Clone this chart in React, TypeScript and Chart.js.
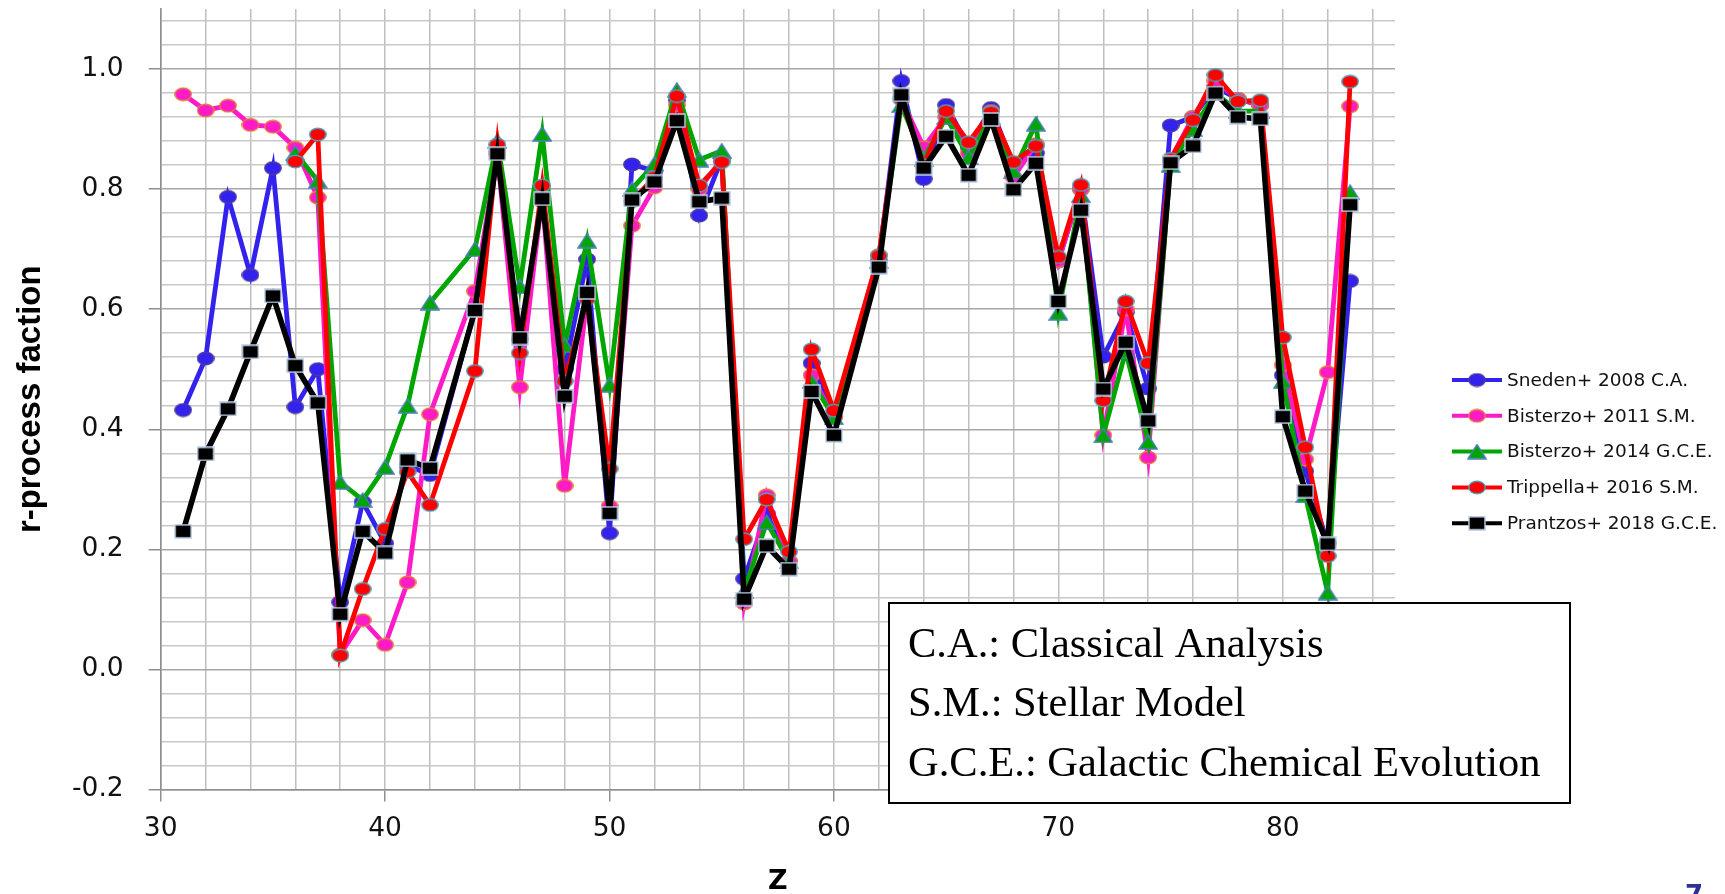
import React, { useEffect, useRef } from "react";
import { Chart, registerables } from "chart.js";

Chart.register(...registerables);

// Atomic number Z (no stable Tc = 43, Pm = 61)
const Z = [
  31, 32, 33, 34, 35, 36, 37, 38, 39, 40, 41, 42,
  44, 45, 46, 47, 48, 49, 50, 51, 52, 53, 54, 55, 56, 57, 58, 59, 60,
  62, 63, 64, 65, 66, 67, 68, 69, 70, 71, 72, 73, 74, 75, 76, 77, 78, 79, 80, 81, 82, 83,
];

const SNEDEN_2008 = [
  0.432, 0.518, 0.787, 0.657, 0.835, 0.437, 0.5, 0.112, 0.279, 0.21, 0.34, 0.324,
  0.6, 0.86, 0.55, 0.78, 0.5, 0.683, 0.227, 0.841, 0.83, 0.948, 0.756, 0.85, 0.151, 0.26, 0.18, 0.51, 0.42,
  0.68, 0.98, 0.817, 0.94, 0.87, 0.935, 0.84, 0.86, 0.68, 0.8, 0.521, 0.595, 0.468, 0.906, 0.92, 0.97, 0.95, 0.94, 0.49, 0.33, 0.21, 0.647,
];

const BISTERZO_2011 = [
  0.958, 0.931, 0.939, 0.907, 0.904, 0.869, 0.786, 0.025, 0.082, 0.041, 0.145, 0.425,
  0.63, 0.86, 0.47, 0.79, 0.306, 0.62, 0.272, 0.739, 0.803, 0.94, 0.8, 0.85, 0.11, 0.29, 0.18, 0.49, 0.42,
  0.69, 0.95, 0.87, 0.92, 0.86, 0.93, 0.82, 0.875, 0.68, 0.8, 0.39, 0.6, 0.353, 0.85, 0.92, 0.98, 0.95, 0.94, 0.507, 0.35, 0.495, 0.938,
];

const BISTERZO_2014 = [
  null, null, null, null, null, 0.86, 0.814, 0.312, 0.282, 0.337, 0.439, 0.611,
  0.7, 0.88, 0.638, 0.892, 0.54, 0.714, 0.474, 0.8, 0.842, 0.965, 0.849, 0.864, 0.13, 0.245, 0.18, 0.48, 0.42,
  0.68, 0.94, 0.85, 0.92, 0.853, 0.92, 0.83, 0.909, 0.594, 0.79, 0.39, 0.53, 0.379, 0.84, 0.9, 0.96, 0.93, 0.93, 0.48, 0.29, 0.128, 0.795,
];

const TRIPPELLA_2016 = [
  null, null, null, null, null, 0.846, 0.891, 0.023, 0.134, 0.234, 0.329, 0.274,
  0.497, 0.874, 0.527, 0.806, 0.48, 0.617, 0.334, 0.78, 0.82, 0.955, 0.806, 0.845, 0.217, 0.283, 0.196, 0.533, 0.431,
  0.689, 0.95, 0.84, 0.93, 0.878, 0.928, 0.845, 0.872, 0.687, 0.807, 0.448, 0.613, 0.51, 0.85, 0.915, 0.99, 0.946, 0.948, 0.553, 0.37, 0.189, 0.979,
];

const PRANTZOS_2018 = [
  0.23, 0.359, 0.434, 0.529, 0.622, 0.506, 0.444, 0.092, 0.23, 0.194, 0.349, 0.335,
  0.598, 0.859, 0.552, 0.784, 0.455, 0.628, 0.26, 0.782, 0.812, 0.914, 0.779, 0.785, 0.117, 0.206, 0.167, 0.463, 0.39,
  0.67, 0.957, 0.835, 0.888, 0.823, 0.916, 0.799, 0.843, 0.613, 0.765, 0.467, 0.545, 0.414, 0.844, 0.872, 0.96, 0.92, 0.917, 0.421, 0.297, 0.209, 0.774,
];

const SERIES_LABELS = [
  "Sneden+ 2008 C.A.",
  "Bisterzo+ 2011 S.M.",
  "Bisterzo+ 2014 G.C.E.",
  "Trippella+ 2016 S.M.",
  "Prantzos+ 2018 G.C.E.",
];

const X_TICK_LABELS = [30, 40, 50, 60, 70, 80];
const Y_TICK_LABELS = [-0.2, 0.0, 0.2, 0.4, 0.6, 0.8, 1.0];

const NOTE_LINES = [
  "C.A.: Classical Analysis",
  "S.M.: Stellar Model",
  "G.C.E.: Galactic Chemical Evolution",
];

const PAGE_NUMBER = "7";

// axis ranges and minor grid spacing
const X_MIN = 30;
const X_MAX = 85;
const X_MINOR = 2;
const Y_MIN = -0.2;
const Y_MAX = 1.1;
const Y_MINOR = 0.04;

type MarkerKind = "circle" | "triangle" | "square";

function makeMarker(kind: MarkerKind, fill: string, stroke: string): HTMLCanvasElement {
  const c = document.createElement("canvas");
  const w = kind === "triangle" ? 20 : 18;
  const h = kind === "triangle" ? 16 : 15;
  c.width = w;
  c.height = h;
  const g = c.getContext("2d")!;
  g.fillStyle = fill;
  g.strokeStyle = stroke;
  g.lineWidth = 1.4;
  g.beginPath();
  if (kind === "circle") {
    g.ellipse(w / 2, h / 2, 8.2, 6.3, 0, 0, Math.PI * 2);
  } else if (kind === "triangle") {
    g.moveTo(w / 2, 1);
    g.lineTo(w - 1, h - 1);
    g.lineTo(1, h - 1);
    g.closePath();
  } else {
    g.rect(1, 1, w - 2, h - 2);
  }
  g.fill();
  g.stroke();
  return c;
}

function isMultiple(v: number, step: number) {
  const r = v / step;
  return Math.abs(r - Math.round(r)) < 1e-6;
}

export default function App() {
  const canvasRef = useRef<HTMLCanvasElement | null>(null);

  useEffect(() => {
    const canvas = canvasRef.current;
    if (!canvas) return;

    const styles = [
      { color: "#3322ee", marker: makeMarker("circle", "#3322ee", "#4b3c9e"), width: 4.8, order: 4 },
      { color: "#ff1ac8", marker: makeMarker("circle", "#ff1ac8", "#e0803a"), width: 4.8, order: 3 },
      { color: "#00a600", marker: makeMarker("triangle", "#00a600", "#4a7ebb"), width: 4.8, order: 2 },
      { color: "#ff0000", marker: makeMarker("circle", "#ff0000", "#4aa3b8"), width: 4.8, order: 1 },
      { color: "#000000", marker: makeMarker("square", "#000000", "#b9cde5"), width: 5.6, order: 0 },
    ];
    const seriesValues = [SNEDEN_2008, BISTERZO_2011, BISTERZO_2014, TRIPPELLA_2016, PRANTZOS_2018];

    const datasets = seriesValues.map((vals, i) => ({
      label: SERIES_LABELS[i],
      data: Z.map((z, j) => ({ x: z, y: vals[j] })),
      borderColor: styles[i].color,
      backgroundColor: styles[i].color,
      borderWidth: styles[i].width,
      pointStyle: styles[i].marker,
      pointRadius: 8,
      tension: 0,
      order: styles[i].order,
    }));

    const xGrid: number[] = [];
    for (let v = X_MIN; v < X_MAX; v += X_MINOR) xGrid.push(v);
    const yGrid: number[] = [];
    for (let k = 0; Y_MIN + k * Y_MINOR < Y_MAX - 1e-9; k++) {
      yGrid.push(Math.round((Y_MIN + k * Y_MINOR) * 1000) / 1000);
    }

    const overlay = {
      id: "overlay",
      afterDraw(chart: any) {
        const ctx = chart.ctx as CanvasRenderingContext2D;
        ctx.save();

        // series key on the right
        const keyX0 = 1452;
        const keyX1 = 1502;
        const keyY0 = 380;
        const keyStep = 35.8;
        ctx.font = "18.5px 'DejaVu Sans'";
        ctx.textBaseline = "middle";
        ctx.textAlign = "left";
        SERIES_LABELS.forEach((label, i) => {
          const y = keyY0 + i * keyStep;
          ctx.strokeStyle = styles[i].color;
          ctx.lineWidth = 4;
          ctx.beginPath();
          ctx.moveTo(keyX0, y);
          ctx.lineTo(keyX1, y);
          ctx.stroke();
          const m = styles[i].marker;
          ctx.drawImage(m, (keyX0 + keyX1) / 2 - m.width / 2, y - m.height / 2);
          ctx.fillStyle = "#111111";
          ctx.fillText(label, 1507, y + 1);
        });

        // abbreviation box
        const bx = 889;
        const by = 603;
        const bw = 681;
        const bh = 200;
        ctx.fillStyle = "#ffffff";
        ctx.fillRect(bx, by, bw, bh);
        ctx.strokeStyle = "#000000";
        ctx.lineWidth = 2;
        ctx.strokeRect(bx, by, bw, bh);
        ctx.fillStyle = "#000000";
        ctx.font = "42.5px 'Liberation Serif'";
        ctx.textBaseline = "alphabetic";
        NOTE_LINES.forEach((t, i) => {
          ctx.fillText(t, 908, 657 + i * 59.4);
        });

        // slide page number, cut by the bottom edge
        ctx.fillStyle = "#2e3192";
        ctx.font = "bold 26px 'DejaVu Sans'";
        ctx.fillText(PAGE_NUMBER, 1685, 904);

        ctx.restore();
      },
    };

    const tickFont = { family: "'DejaVu Sans'", size: 26.5 };

    const chart = new Chart(canvas, {
      type: "line",
      data: { datasets: datasets as any },
      options: {
        animation: false,
        responsive: false,
        maintainAspectRatio: false,
        devicePixelRatio: 1,
        layout: { autoPadding: false, padding: { left: 0, top: 9, right: 330, bottom: 0 } },
        plugins: {
          legend: { display: false },
          tooltip: { enabled: false },
        },
        scales: {
          x: {
            type: "linear",
            min: X_MIN,
            max: X_MAX,
            afterBuildTicks: (scale: any) => {
              scale.ticks = xGrid.map((v) => ({ value: v }));
            },
            afterFit: (scale: any) => {
              scale.height = 104.5;
              scale.paddingLeft = 0;
              scale.paddingRight = 0;
            },
            ticks: {
              autoSkip: false,
              maxRotation: 0,
              padding: 12,
              color: "#111111",
              font: tickFont,
              callback: (v: any) => (X_TICK_LABELS.includes(Number(v)) ? String(v) : ""),
            },
            grid: {
              lineWidth: 1.5,
              tickLength: 12,
              color: "#bfbfbf",
              tickColor: (c: any) =>
                X_TICK_LABELS.includes(c.tick?.value) ? "#8f8f8f" : "rgba(0,0,0,0)",
            },
            border: { color: "#8f8f8f", width: 1.6 },
            title: {
              display: true,
              text: "Z",
              color: "#000000",
              font: { family: "'DejaVu Sans'", size: 27, weight: "bold" },
              padding: { top: 0, bottom: -4 },
            },
          },
          y: {
            type: "linear",
            min: Y_MIN,
            max: Y_MAX,
            afterBuildTicks: (scale: any) => {
              scale.ticks = yGrid.map((v) => ({ value: v }));
            },
            afterFit: (scale: any) => {
              scale.width = 160.7;
              scale.paddingTop = 0;
              scale.paddingBottom = 0;
            },
            ticks: {
              autoSkip: false,
              padding: 25,
              color: "#111111",
              font: tickFont,
              callback: (v: any) => {
                const n = Number(v);
                const hit = Y_TICK_LABELS.find((t) => Math.abs(t - n) < 1e-6);
                return hit === undefined ? "" : hit.toFixed(1);
              },
            },
            grid: {
              lineWidth: 1.5,
              tickLength: 12,
              color: (c: any) =>
                c.tick && isMultiple(c.tick.value, 0.2) ? "#a6a6a6" : "#c8c8c8",
              tickColor: (c: any) =>
                c.tick && isMultiple(c.tick.value, 0.2) ? "#8f8f8f" : "rgba(0,0,0,0)",
            },
            border: { color: "#8f8f8f", width: 1.6 },
            title: {
              display: true,
              text: "r-process faction",
              color: "#000000",
              font: { family: "'Liberation Sans'", size: 33, weight: "bold" },
              padding: { top: 11, bottom: 0 },
            },
          },
        },
      },
      plugins: [overlay],
    });

    return () => {
      chart.destroy();
    };
  }, []);

  return (
    <div
      style={{
        position: "fixed",
        left: 0,
        top: 0,
        width: 1725,
        height: 894,
        overflow: "hidden",
        background: "#ffffff",
      }}
    >
      <canvas ref={canvasRef} width={1725} height={894} style={{ display: "block" }} />
    </div>
  );
}
